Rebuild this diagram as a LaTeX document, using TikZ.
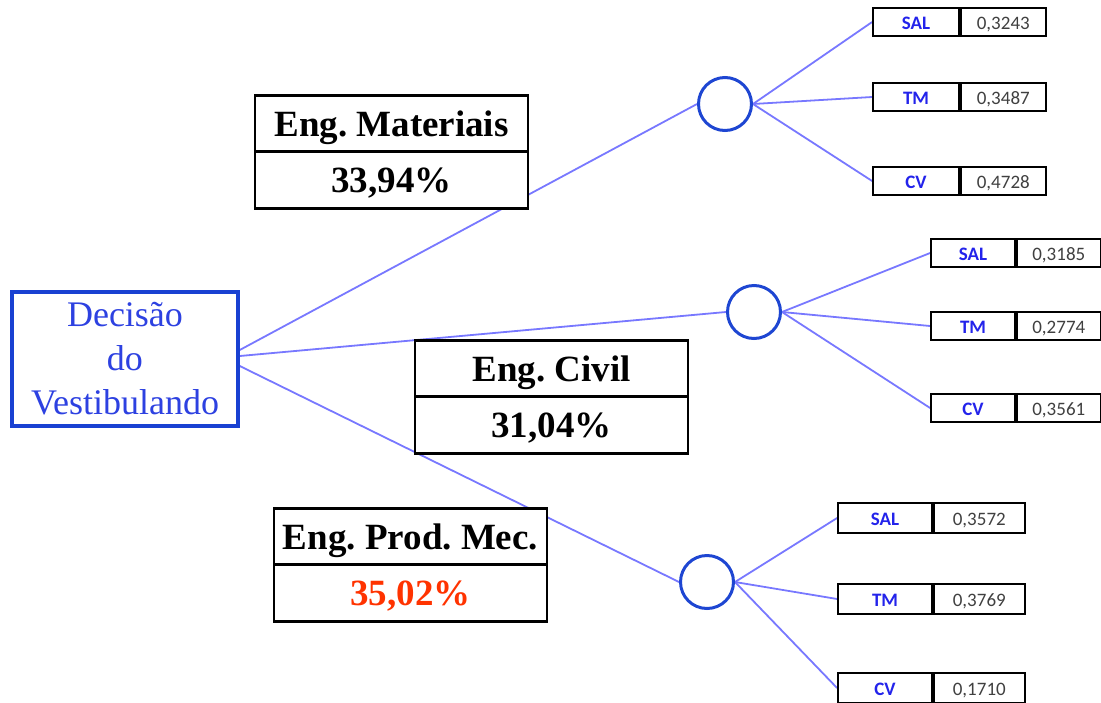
\documentclass[tikz,border=0pt]{standalone}
\usepackage{fontspec}
\setmainfont{Liberation Serif}
\newfontfamily\leaffont{Carlito}
\usetikzlibrary{backgrounds}
\frenchspacing
\definecolor{linec}{RGB}{120,120,255}
\definecolor{circblue}{RGB}{30,70,210}
\definecolor{decblue}{RGB}{25,65,210}
\definecolor{dectext}{RGB}{45,65,225}
\definecolor{leafblue}{RGB}{35,35,235}
\definecolor{numgray}{RGB}{64,64,64}
\definecolor{redpct}{RGB}{255,51,0}
\tikzset{
  conn/.style={draw=linec, line width=1.8pt},
  chance/.style={circle, draw=circblue, line width=3pt, minimum size=53pt, inner sep=0pt, fill=white},
  engcell/.style={draw=black, line width=2.8pt, minimum width=273pt, minimum height=56.5pt, inner sep=0pt, fill=white, text height=25pt, text depth=0pt, font=\frenchspacing\bfseries\fontsize{37}{40}\selectfont},
  decbox/.style={draw=decblue, line width=3.5pt, minimum width=226pt, minimum height=134pt, inner sep=0pt, fill=white, align=center, text=dectext, font=\fontsize{36}{44}\selectfont},
  leafl/.style={draw=black, line width=1.8pt, minimum height=28pt, inner sep=0pt, fill=white, text height=15pt, text depth=0pt, text=leafblue, font=\leaffont\bfseries\fontsize{19}{21}\selectfont},
  leafr/.style={draw=black, line width=1.8pt, minimum height=28pt, inner sep=0pt, fill=white, text height=15pt, text depth=0pt, text=numgray, font=\leaffont\fontsize{19}{21}\selectfont, anchor=west},
}
\begin{document}
\begin{tikzpicture}[x=1pt,y=-1pt]
\useasboundingbox (0,0) rectangle (1101,702);
% decision
\node[decbox] (dec) at (125,359) {Decisão\\do\\Vestibulando};
% chance nodes
\node[chance] (c1) at (725,104) {};
\node[chance] (c2) at (754,312) {};
\node[chance] (c3) at (707,582) {};
% leaves group 1
\node[leafl, minimum width=86pt] (l1s) at (916,22) {SAL};
\node[leafr, minimum width=85pt] (r1s) at (l1s.east) {0,3243};
\node[leafl, minimum width=86pt] (l1t) at (916,97) {TM};
\node[leafr, minimum width=85pt] (r1t) at (l1t.east) {0,3487};
\node[leafl, minimum width=86pt] (l1c) at (916,181) {CV};
\node[leafr, minimum width=85pt] (r1c) at (l1c.east) {0,4728};
% leaves group 2
\node[leafl, minimum width=84pt] (l2s) at (973,253) {SAL};
\node[leafr, minimum width=84pt] (r2s) at (l2s.east) {0,3185};
\node[leafl, minimum width=84pt] (l2t) at (973,326) {TM};
\node[leafr, minimum width=84pt] (r2t) at (l2t.east) {0,2774};
\node[leafl, minimum width=84pt] (l2c) at (973,408) {CV};
\node[leafr, minimum width=84pt] (r2c) at (l2c.east) {0,3561};
% leaves group 3
\node[leafl, minimum width=94pt, minimum height=30pt] (l3s) at (885,518) {SAL};
\node[leafr, minimum width=91pt, minimum height=30pt] (r3s) at (l3s.east) {0,3572};
\node[leafl, minimum width=94pt, minimum height=30pt] (l3t) at (885,599) {TM};
\node[leafr, minimum width=91pt, minimum height=30pt] (r3t) at (l3t.east) {0,3769};
\node[leafl, minimum width=94pt, minimum height=30pt] (l3c) at (885,688) {CV};
\node[leafr, minimum width=91pt, minimum height=30pt] (r3c) at (l3c.east) {0,1710};
% engineering boxes
\node[engcell] (em) at (391.5,123.5) {Eng. Materiais};
\node[engcell] (emp) at (391.5,180) {33,94\%};
\node[engcell] (ec) at (551.5,368.5) {Eng. Civil};
\node[engcell] (ecp) at (551.5,425) {31,04\%};
\node[engcell] (ep) at (410.5,536.5) {Eng. Prod. Mec.};
\node[engcell, text=redpct] (epp) at (410.5,593) {35,02\%};
% connectors
\begin{scope}[on background layer]
\draw[conn] ([yshift=9pt]dec.east) -- (c1.west);
\draw[conn] ([yshift=3pt]dec.east) -- (c2.west);
\draw[conn] ([yshift=-7pt]dec.east) -- (c3.west);
\draw[conn] (c1.east) -- (l1s.west);
\draw[conn] (c1.east) -- (l1t.west);
\draw[conn] (c1.east) -- (l1c.west);
\draw[conn] (c2.east) -- (l2s.west);
\draw[conn] (c2.east) -- (l2t.west);
\draw[conn] (c2.east) -- (l2c.west);
\draw[conn] (c3.east) -- (l3s.west);
\draw[conn] (c3.east) -- (l3t.west);
\draw[conn] (c3.east) -- (l3c.west);
\end{scope}
\end{tikzpicture}
\end{document}
